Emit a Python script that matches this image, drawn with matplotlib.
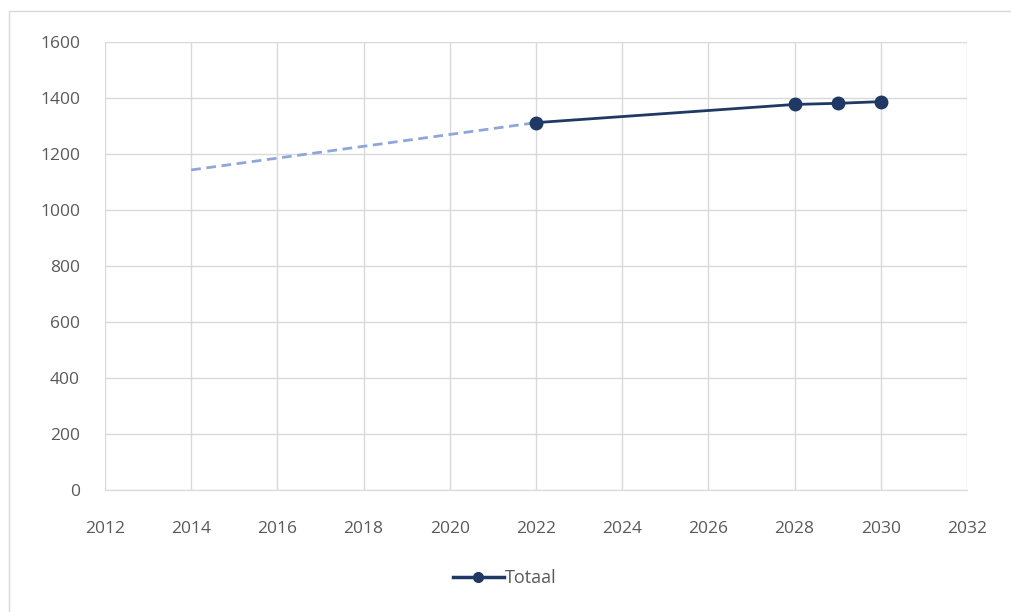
import matplotlib.pyplot as plt
from matplotlib.lines import Line2D
from matplotlib.patches import Rectangle

# data
years_hist = [2014, 2022]
values_hist = [1143, 1312]
years = [2022, 2028, 2029, 2030]
values = [1312, 1377, 1381, 1387]

xticks = list(range(2012, 2033, 2))
yticks = list(range(0, 1601, 200))

navy = '#1f3864'
light = '#8fa6da'
grey_txt = '#595959'

plt.rcParams['font.family'] = ['Open Sans', 'DejaVu Sans']

fig = plt.figure(figsize=(10.11, 6.12), dpi=100)
ax = fig.add_axes([105 / 1011, 1 - 490 / 612, (967 - 105) / 1011, (490 - 42) / 612])

# outer chart border (only top and left visible in the crop)
fig.patches.append(Rectangle((9 / 1011, -0.1), 1.2, 1 - 11 / 612 + 0.1,
                             transform=fig.transFigure, fill=False,
                             edgecolor='#d9d9d9', linewidth=1))

ax.plot(years_hist, values_hist, color=light, linewidth=2, linestyle=(0, (3.5, 2)), zorder=3)
ax.plot(years, values, color=navy, linewidth=2, marker='o', markersize=9, zorder=4)

ax.set_xlim(2012, 2032)
ax.set_ylim(0, 1600)
ax.set_xticks(xticks)
ax.set_yticks(yticks)
ax.grid(True, color='#d9d9d9', linewidth=1)
ax.set_axisbelow(True)
for s in ['top', 'right', 'left']:
    ax.spines[s].set_visible(False)
ax.spines['bottom'].set_color('#d9d9d9')
ax.tick_params(length=0, labelsize=12.5, labelcolor=grey_txt)
ax.tick_params(axis='x', pad=22)
ax.tick_params(axis='y', pad=18)

handle = Line2D([], [], color=navy, linewidth=2.5, marker='o', markersize=7)
fig.legend([handle], ['Totaal'], loc='center', bbox_to_anchor=(505 / 1011, 1 - 578 / 612),
           frameon=False, fontsize=13, labelcolor=grey_txt, handlelength=2.8, handletextpad=0.1)

fig.savefig('out.png', dpi=100)
